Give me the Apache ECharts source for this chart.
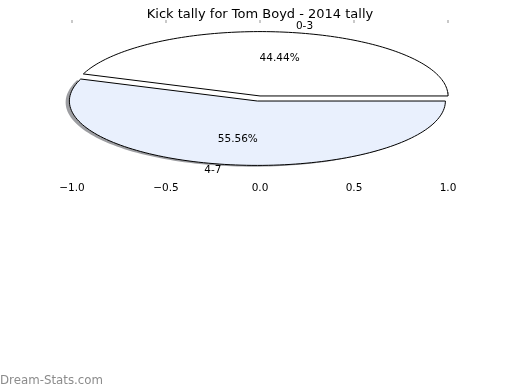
<!DOCTYPE html>
<html>
<head>
<meta charset="utf-8">
<script src="https://cdn.jsdelivr.net/npm/echarts@6/dist/echarts.min.js"></script>
<style>html,body{margin:0;padding:0;background:#fff}#c{width:520px;height:390px}</style>
</head>
<body>
<div id="c"></div>
<script>
const titleText = 'Kick tally for Tom Boyd - 2014 tally';
const categories = ['0-3', '4-7'];
const values = [4, 5];
const tickValues = [-1, -0.5, 0, 0.5, 1];
const tickLabels = ['\u22121.0', '\u22120.5', '0.0', '0.5', '1.0'];
const watermark = 'Dream-Stats.com';

const FONT = 'DejaVu Sans';
const colors = ['#ffffff', '#e9f0fd'];
const explodes = [0, 0.08];
const shadows = [false, true];

const total = values.reduce((a, b) => a + b, 0);
const cum = [0];
values.forEach(v => cum.push(cum[cum.length - 1] + v));

const chart = echarts.init(document.getElementById('c'), null, {renderer: 'canvas'});

function renderItem(params, api) {
  const i = params.dataIndex;
  const v = api.value(2);
  const start = cum[i] / total * Math.PI * 2;
  const end = (cum[i] + v) / total * Math.PI * 2;
  const mid = (start + end) / 2;
  const e = explodes[i];
  const cx = api.value(0) + e * Math.cos(mid);
  const cy = api.value(1) + e * Math.sin(mid);
  const N = 120;
  function poly(ox, oy) {
    const pts = [api.coord([cx + ox, cy + oy])];
    for (let k = 0; k <= N; k++) {
      const a = start + (end - start) * k / N;
      pts.push(api.coord([cx + ox + Math.cos(a), cy + oy + Math.sin(a)]));
    }
    return pts;
  }
  const children = [];
  if (shadows[i]) {
    children.push({type: 'polygon', shape: {points: poly(-0.02, -0.02)},
      style: {fill: 'rgba(60,62,70,0.5)', stroke: null}});
  }
  children.push({type: 'polygon', shape: {points: poly(0, 0)},
    style: {fill: colors[i], stroke: '#000', lineWidth: 1}});
  const lp = api.coord([cx + 1.1 * Math.cos(mid), cy + 1.1 * Math.sin(mid)]);
  children.push({type: 'text', x: lp[0], y: lp[1], style: {
    text: categories[i], fontFamily: FONT, fontSize: 10.5, fill: '#000',
    align: Math.cos(mid) > 0 ? 'left' : 'right', verticalAlign: 'middle'}});
  const pp = api.coord([cx + 0.6 * Math.cos(mid), cy + 0.6 * Math.sin(mid)]);
  children.push({type: 'text', x: pp[0], y: pp[1], style: {
    text: (v / total * 100).toFixed(2) + '%', fontFamily: FONT, fontSize: 10.5, fill: '#000',
    align: 'center', verticalAlign: 'middle'}});
  return {type: 'group', children: children};
}

const option = {
  animation: false,
  backgroundColor: '#fff',
  title: {text: titleText, left: 'center', top: 2.5,
    textStyle: {fontFamily: FONT, fontSize: 13, fontWeight: 'normal', color: '#000', lineHeight: 14}},
  grid: {left: 72, right: 72, top: 20, bottom: 211, containLabel: false},
  xAxis: [
    {type: 'value', position: 'bottom', min: -1, max: 1, interval: 0.5,
      axisLine: {show: false}, splitLine: {show: false},
      axisTick: {show: true, inside: true, length: 4, lineStyle: {color: '#b8b8b8', width: 1.5}},
      axisLabel: {show: true, margin: 4, fontFamily: FONT, fontSize: 10.5, color: '#000',
        formatter: function (val) { const k = tickValues.indexOf(val); return k >= 0 ? tickLabels[k] : ''; }}},
    {type: 'value', position: 'top', min: -1, max: 1, interval: 0.5,
      axisLine: {show: false}, splitLine: {show: false},
      axisTick: {show: true, inside: true, length: 3, lineStyle: {color: '#b8b8b8', width: 1.5}},
      axisLabel: {show: false}}
  ],
  yAxis: {type: 'value', min: -1.29, max: 1.18, show: false},
  series: [{
    type: 'custom', clip: false, renderItem: renderItem, xAxisIndex: 0,
    data: values.map(v => [0, 0, v])
  }],
  graphic: [{type: 'text', left: 0, top: 374.5, style: {text: watermark, fontFamily: FONT, fontSize: 11.8, fill: '#8c8c8c'}}]
};
chart.setOption(option);
</script>
</body>
</html>
